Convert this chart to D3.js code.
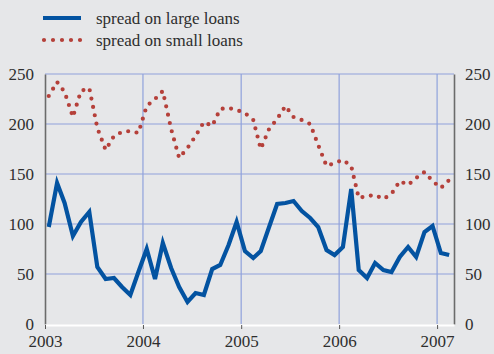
<!DOCTYPE html>
<html>
<head>
<meta charset="utf-8">
<script src="https://cdn.jsdelivr.net/npm/d3@7"></script>
<style>
body { margin: 0; background: #e6e7e9; }
svg { display: block; }
svg text { font-family: "Liberation Serif", "Times New Roman", Times, "DejaVu Serif", serif; }
</style>
</head>
<body>
<div id="svganchor"></div>
<script>
// Data: monthly spreads, Jan 2003 - Feb 2007
var startYear = 2003, startMonth = 0;
var largeLoans = [97, 141, 121, 88, 102, 112, 57, 45, 46, 37, 29, 52,
                  75, 45, 81, 56, 37, 22, 31, 29, 55, 59, 79, 102,
                  73, 66, 73, 97, 120, 121, 123, 113, 106, 97, 74, 69,
                  77, 135, 54, 46, 61, 54, 52, 67, 77, 67, 92, 98,
                  71, 69];
var smallLoans = [228, 242, 232, 207, 233, 236, 196, 174, 188, 192, 193, 191,
                  218, 225, 233, 195, 166, 176, 188, 202, 198, 215, 216, 214,
                  211, 204, 175, 195, 205, 218, 207, 204, 200, 179, 158, 161,
                  164, 158, 126, 128, 129, 125, 130, 143, 139, 146, 152, 143,
                  136, 144];
var seriesNames = ["spread on large loans", "spread on small loans"];
var yTicks = [0, 50, 100, 150, 200, 250];
var yearTicks = [2003, 2004, 2005, 2006, 2007];

// Measurement
var w = 494, h = 354;
var padding = [ 74, 40, 30, 45 ];  //Top, right, bottom, left
var blue = "#0353a1", red = "#b5403a", grid = "#8fa2dc", ink = "#2e2e2e";

function monthDate(i) {
	return new Date(startYear, startMonth + i, 15);
}

// Scaling
var xScale = d3.scaleTime()
	.domain([ new Date(2003, 0, 1), new Date(2007, 2, 5) ])
	.range([ padding[3], w - padding[1] ]);
var yScale = d3.scaleLinear()
	.domain([ 0, 250 ])
	.range([ h - padding[2], padding[0] ]);

var svg = d3.select("#svganchor")
	.append("svg")
	.attr("width", w)
	.attr("height", h);

// Gridlines
svg.append("g")
	.selectAll("line")
	.data(yTicks.filter(function(d) { return d > 0; }))
	.enter()
	.append("line")
	.attr("x1", padding[3])
	.attr("x2", w - padding[1])
	.attr("y1", function(d) { return yScale(d); })
	.attr("y2", function(d) { return yScale(d); })
	.attr("stroke", grid)
	.attr("stroke-width", 1.2);

svg.append("g")
	.selectAll("line")
	.data(yearTicks.filter(function(d) { return d > 2003; }))
	.enter()
	.append("line")
	.attr("x1", function(d) { return xScale(new Date(d, 0, 1)); })
	.attr("x2", function(d) { return xScale(new Date(d, 0, 1)); })
	.attr("y1", padding[0])
	.attr("y2", h - padding[2])
	.attr("stroke", grid)
	.attr("stroke-width", 1.2);

// Axes
var yAxisLeft = d3.axisLeft(yScale)
	.tickValues(yTicks)
	.tickSize(0)
	.tickPadding(11);
var yAxisRight = d3.axisRight(yScale)
	.tickValues(yTicks)
	.tickSize(0)
	.tickPadding(11);
var xAxis = d3.axisBottom(xScale)
	.tickValues(yearTicks.map(function(d) { return new Date(d, 0, 1); }))
	.tickFormat(d3.timeFormat("%Y"))
	.tickSizeInner(4)
	.tickSizeOuter(0)
	.tickPadding(6);

svg.append("g")
	.attr("class", "y axis left")
	.attr("transform", "translate(" + padding[3] + ",0)")
	.call(yAxisLeft);

svg.append("g")
	.attr("class", "y axis right")
	.attr("transform", "translate(" + (w - padding[1]) + ",0)")
	.call(yAxisRight);

svg.append("g")
	.attr("class", "x axis")
	.attr("transform", "translate(0," + (h - padding[2] + 1) + ")")
	.call(xAxis);

svg.selectAll(".axis").attr("font-family", null);
svg.selectAll(".axis text")
	.attr("font-size", 17)
	.attr("fill", ink);
svg.selectAll(".y.axis .domain")
	.attr("stroke", "#6b6b6b")
	.attr("stroke-width", 1.6);
svg.selectAll(".x.axis .domain")
	.attr("stroke", "#ffffff")
	.attr("stroke-width", 2);
svg.selectAll(".x.axis .tick line")
	.attr("stroke", "#555");

// Lines
var lineGen = d3.line()
	.x(function(d, i) { return xScale(monthDate(i)); })
	.y(function(d) { return yScale(d); });

svg.append("path")
	.datum(smallLoans)
	.attr("d", lineGen)
	.attr("fill", "none")
	.attr("stroke", red)
	.attr("stroke-width", 4.2)
	.attr("stroke-linecap", "round")
	.attr("stroke-dasharray", "0,8.5");

svg.append("path")
	.datum(largeLoans)
	.attr("d", lineGen)
	.attr("fill", "none")
	.attr("stroke", blue)
	.attr("stroke-width", 4.2)
	.attr("stroke-linejoin", "miter");

// Legend
var legend = svg.append("g");
legend.append("line")
	.attr("x1", 43).attr("x2", 81)
	.attr("y1", 18).attr("y2", 18)
	.attr("stroke", blue)
	.attr("stroke-width", 4.2);
legend.append("line")
	.attr("x1", 44).attr("x2", 81)
	.attr("y1", 40).attr("y2", 40)
	.attr("stroke", red)
	.attr("stroke-width", 4.2)
	.attr("stroke-linecap", "round")
	.attr("stroke-dasharray", "0,9");
legend.selectAll("text")
	.data(seriesNames)
	.enter()
	.append("text")
	.attr("x", 96)
	.attr("y", function(d, i) { return 24 + i * 22; })
	.attr("font-size", 17)
	.attr("fill", ink)
	.text(function(d) { return d; });
</script>
</body>
</html>
